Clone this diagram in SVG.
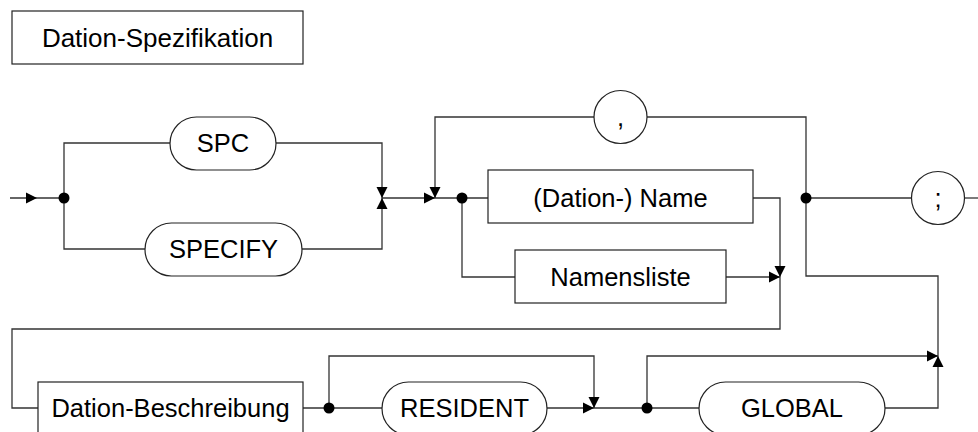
<svg xmlns="http://www.w3.org/2000/svg" xmlns:xlink="http://www.w3.org/1999/xlink" width="978" height="432" viewBox="0 0 978 432">
<style>
  .ln { fill: none; stroke: #333; stroke-width: 1.3; }
  .box { fill: #fff; stroke: #222; stroke-width: 1.2; }
  .t { font-family: "Liberation Sans", Arial, sans-serif; font-size: 25.5px; fill: #000; text-anchor: middle; }
  .dot { fill: #000; }
  .ah { fill: #000; }
</style>
<defs>
  <path id="ah" class="ah" d="M0,0 L-11,-5.5 L-11,5.5 Z"/>
</defs>
<rect width="978" height="432" fill="#fff"/>

<g id="connectors">
  <path class="ln" d="M10,198 H64"/>
  <path class="ln" d="M64,198 V143 H170"/>
  <path class="ln" d="M276,143 H382 V198"/>
  <path class="ln" d="M64,198 V249 H145"/>
  <path class="ln" d="M302,249 H382 V198"/>
  <path class="ln" d="M382,198 H488"/>
  <path class="ln" d="M806,198 V117 H647"/>
  <path class="ln" d="M594,117 H435 V198"/>
  <path class="ln" d="M753,198 H780 V329 H12 V408 H38"/>
  <path class="ln" d="M462,198 V277 H515"/>
  <path class="ln" d="M726,277 H780"/>
  <path class="ln" d="M806,198 H912"/>
  <path class="ln" d="M964,198 H978"/>
  <path class="ln" d="M806,198 V276 H938 V356"/>
  <path class="ln" d="M303,408 H382"/>
  <path class="ln" d="M329,408 V356 H594 V408"/>
  <path class="ln" d="M547,408 H699"/>
  <path class="ln" d="M647,408 V356 H938"/>
  <path class="ln" d="M885,408 H938 V356"/>

  <use xlink:href="#ah" transform="translate(37,198)"/>
  <use xlink:href="#ah" transform="translate(382,198) rotate(90)"/>
  <use xlink:href="#ah" transform="translate(382,198) rotate(-90)"/>
  <use xlink:href="#ah" transform="translate(435,198)"/>
  <use xlink:href="#ah" transform="translate(435,198) rotate(90)"/>
  <use xlink:href="#ah" transform="translate(780,277)"/>
  <use xlink:href="#ah" transform="translate(780,277) rotate(90)"/>
  <use xlink:href="#ah" transform="translate(594,408)"/>
  <use xlink:href="#ah" transform="translate(594,408) rotate(90)"/>
  <use xlink:href="#ah" transform="translate(938,356)"/>
  <use xlink:href="#ah" transform="translate(938,356) rotate(-90)"/>

  <circle class="dot" cx="64" cy="198" r="5.5"/>
  <circle class="dot" cx="462" cy="198" r="5.5"/>
  <circle class="dot" cx="806" cy="198" r="5.5"/>
  <circle class="dot" cx="329" cy="408" r="5.5"/>
  <circle class="dot" cx="647" cy="408" r="5.5"/>
</g>

<g id="title">
  <rect class="box" x="12" y="11" width="291" height="53"/>
  <text class="t" x="157.5" y="46.5" style="font-size:26px">Dation-Spezifikation</text>
</g>
<g id="spc">
  <rect class="box" x="170" y="117" width="106" height="53" rx="26.5"/>
  <text class="t" x="223" y="152">SPC</text>
</g>
<g id="specify">
  <rect class="box" x="145" y="223" width="157" height="53" rx="26.5"/>
  <text class="t" x="223.5" y="258">SPECIFY</text>
</g>
<g id="comma">
  <circle class="box" cx="620.5" cy="117" r="26.5"/>
  <text class="t" x="620.5" y="126">,</text>
</g>
<g id="name">
  <rect class="box" x="488" y="170" width="265" height="53"/>
  <text class="t" x="620.5" y="207">(Dation-) Name</text>
</g>
<g id="namensliste">
  <rect class="box" x="515" y="250" width="211" height="53"/>
  <text class="t" x="620.5" y="286">Namensliste</text>
</g>
<g id="semicolon">
  <circle class="box" cx="938" cy="198" r="26.5"/>
  <text class="t" x="938" y="207">;</text>
</g>
<g id="beschreibung">
  <rect class="box" x="38" y="382" width="265" height="53"/>
  <text class="t" x="170.5" y="417">Dation-Beschreibung</text>
</g>
<g id="resident">
  <rect class="box" x="382" y="382" width="165" height="53" rx="26.5"/>
  <text class="t" x="464.5" y="417">RESIDENT</text>
</g>
<g id="global">
  <rect class="box" x="699" y="382" width="186" height="53" rx="26.5"/>
  <text class="t" x="792" y="417">GLOBAL</text>
</g>
</svg>
